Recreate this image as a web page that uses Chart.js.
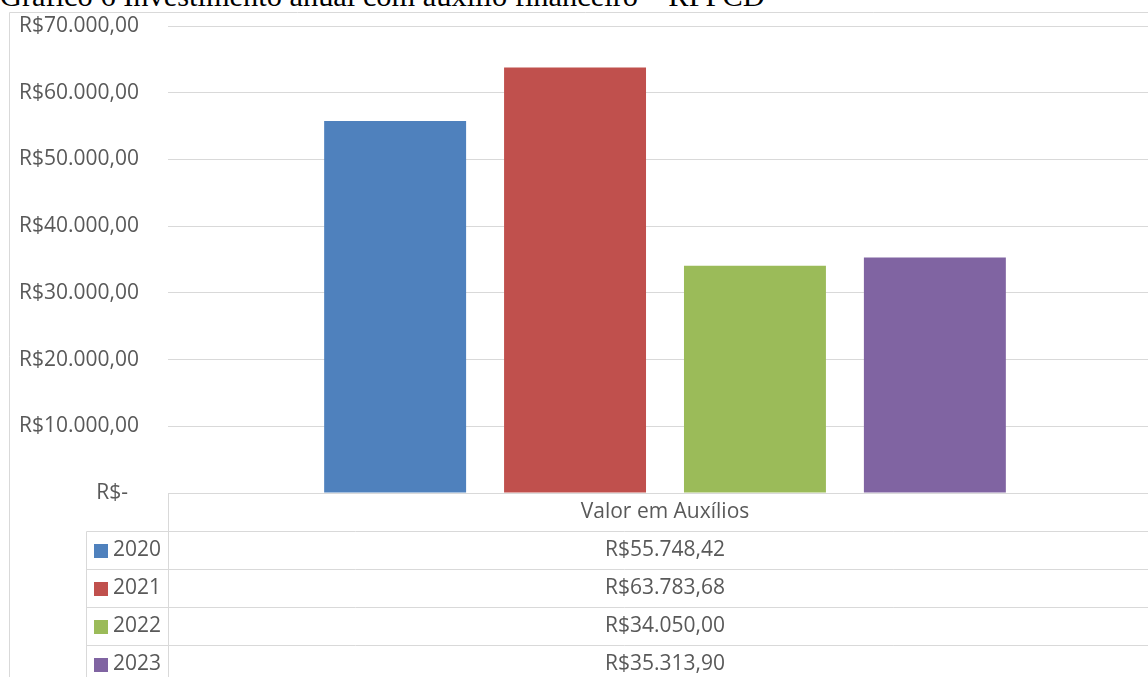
<!DOCTYPE html>
<html lang="pt-BR">
<head>
<meta charset="utf-8">
<title>Investimento anual com auxílio financeiro</title>
<script src="https://cdn.jsdelivr.net/npm/chart.js@4.4.1/dist/chart.umd.min.js"></script>
<style>
  html, body { margin: 0; padding: 0; background: #fff; overflow: hidden; }
  #page { position: relative; width: 1148px; height: 677px; overflow: hidden; }
  #titulo { position: absolute; left: 0; top: -19px; font: 30.4px "Liberation Serif", "Times New Roman", serif; line-height: 30px; color: #000; white-space: nowrap; }
  #wrap { position: absolute; left: 0; top: 0; width: 1162px; height: 700px; }
</style>
</head>
<body>
<div id="page">
  <div id="titulo">Gráfico 6 Investimento anual com auxílio financeiro – RFPCD</div>
  <div id="wrap"><canvas id="grafico"></canvas></div>
</div>
<script>
/* ---------- DADOS ---------- */
const categorias = ['Valor em Auxílios'];
const anos = ['2020', '2021', '2022', '2023'];
const valores = [55748.42, 63783.68, 34050.00, 35313.90];
const cores = ['#4F81BD', '#C0504D', '#9BBB59', '#8064A2'];
const eixoY = { min: 0, max: 70000, passo: 10000 };

const FONTE = '"Open Sans", "Liberation Sans", sans-serif';
const COR_TEXTO = '#595959';
const COR_LINHA = '#D9D9D9';

function moeda(v) {
  if (v === 0) return 'R$-  ';
  const [inteiro, dec] = v.toFixed(2).split('.');
  return 'R$' + inteiro.replace(/\B(?=(\d{3})+(?!\d))/g, '.') + ',' + dec;
}

/* ---------- MOLDURA (borda externa) ---------- */
const moldura = {
  id: 'moldura',
  beforeDraw(chart) {
    const ctx = chart.ctx;
    ctx.save();
    ctx.strokeStyle = COR_LINHA;
    ctx.lineWidth = 1;
    ctx.beginPath();
    ctx.moveTo(9.5, chart.height);
    ctx.lineTo(9.5, 12.5);
    ctx.lineTo(chart.width, 12.5);
    ctx.stroke();
    ctx.restore();
  }
};

/* ---------- TABELA DE DADOS abaixo do gráfico ---------- */
const tabelaDados = {
  id: 'tabelaDados',
  afterDraw(chart) {
    const { ctx, chartArea } = chart;
    const topo = Math.round(chartArea.bottom) + 0.5;
    const esq = Math.round(chartArea.left) + 0.5;
    const dir = chart.width;
    const alt = 38, colLeg = 86.5;
    const n = chart.data.datasets.length;
    const fim = topo + alt * (n + 1);

    ctx.save();
    ctx.strokeStyle = COR_LINHA;
    ctx.lineWidth = 1;
    ctx.beginPath();
    ctx.moveTo(esq, topo); ctx.lineTo(dir, topo);
    for (let i = 1; i <= n + 1; i++) {
      ctx.moveTo(colLeg, topo + alt * i);
      ctx.lineTo(dir, topo + alt * i);
    }
    ctx.moveTo(esq, topo); ctx.lineTo(esq, fim);
    ctx.moveTo(colLeg, topo + alt); ctx.lineTo(colLeg, fim);
    ctx.stroke();

    ctx.font = '21px ' + FONTE;
    ctx.fillStyle = COR_TEXTO;
    ctx.textBaseline = 'middle';
    const meio = (chartArea.left + chartArea.right) / 2;

    ctx.textAlign = 'center';
    ctx.fillText(chart.data.labels[0], meio, topo + alt / 2);

    chart.data.datasets.forEach((ds, i) => {
      const cy = topo + alt * (i + 1) + alt / 2;
      ctx.fillStyle = ds.backgroundColor;
      ctx.fillRect(94, Math.round(cy - 7), 14, 14);
      ctx.fillStyle = COR_TEXTO;
      ctx.textAlign = 'left';
      ctx.fillText(ds.label, 113, cy);
      ctx.textAlign = 'center';
      ctx.fillText(moeda(ds.data[0]), meio, cy);
    });
    ctx.restore();
  }
};

/* ---------- GRÁFICO ---------- */
new Chart(document.getElementById('grafico').getContext('2d'), {
  type: 'bar',
  data: {
    labels: categorias,
    datasets: anos.map((ano, i) => ({
      label: ano,
      data: [valores[i]],
      backgroundColor: cores[i],
      borderWidth: 0,
      barPercentage: 0.789,
      categoryPercentage: 0.724
    }))
  },
  options: {
    responsive: true,
    maintainAspectRatio: false,
    animation: false,
    layout: { padding: { top: 26, right: 0, bottom: 207, left: 0 } },
    plugins: {
      legend: { display: false },
      tooltip: { enabled: false }
    },
    scales: {
      x: { display: false },
      y: {
        min: eixoY.min,
        max: eixoY.max,
        afterFit(scale) { scale.width = 168; },
        border: { display: false },
        // ticks invisíveis de 29px só para afastar os rótulos da área do gráfico
        grid: { color: COR_LINHA, lineWidth: 1, drawTicks: true, tickLength: 29, tickColor: 'rgba(0,0,0,0)' },
        ticks: {
          stepSize: eixoY.passo,
          padding: 0,
          color: COR_TEXTO,
          font: { family: FONTE, size: 21 },
          callback: v => moeda(v)
        }
      }
    }
  },
  plugins: [moldura, tabelaDados]
});
</script>
</body>
</html>
